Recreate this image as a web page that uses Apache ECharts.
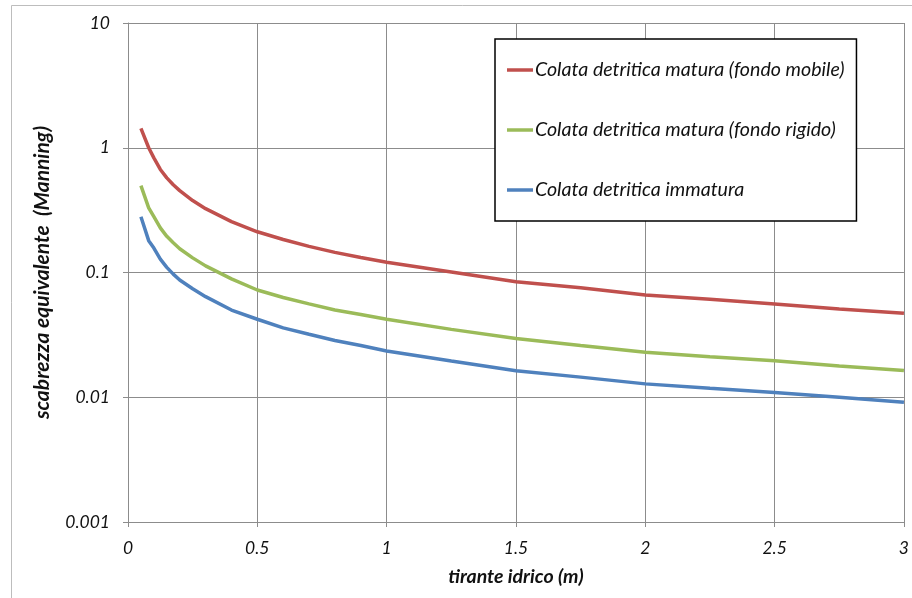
<!DOCTYPE html>
<html>
<head>
<meta charset="utf-8">
<script src="https://cdn.jsdelivr.net/npm/echarts@6/dist/echarts.min.js"></script>
<style>html,body{margin:0;padding:0;background:#fff;}#c{width:912px;height:598px;}</style>
</head>
<body>
<div id="c"></div>
<script>
var xValues = [0.05, 0.08, 0.1, 0.125, 0.15, 0.175, 0.2, 0.25, 0.3, 0.4, 0.5, 0.6, 0.7, 0.8, 0.9, 1.0, 1.25, 1.5, 1.75, 2.0, 2.25, 2.5, 2.75, 3.0];
var redValues = [1.43, 1.0, 0.83, 0.67, 0.573, 0.505, 0.453, 0.377, 0.325, 0.256, 0.212, 0.184, 0.162, 0.145, 0.132, 0.121, 0.101, 0.0843, 0.0755, 0.066, 0.061, 0.056, 0.051, 0.0471];
var greenValues = [0.497, 0.33, 0.28, 0.228, 0.195, 0.173, 0.155, 0.131, 0.113, 0.089, 0.0724, 0.063, 0.056, 0.050, 0.046, 0.0422, 0.0350, 0.0296, 0.0260, 0.0229, 0.0211, 0.0196, 0.0178, 0.0164];
var blueValues = [0.28, 0.18, 0.157, 0.128, 0.11, 0.097, 0.087, 0.074, 0.064, 0.050, 0.0422, 0.036, 0.032, 0.0285, 0.026, 0.0235, 0.0195, 0.0163, 0.0145, 0.0128, 0.0118, 0.0109, 0.0100, 0.00912];
var seriesNames = ['Colata detritica matura (fondo mobile)', 'Colata detritica matura (fondo rigido)', 'Colata detritica immatura'];
var seriesColors = ['#C0504D', '#9BBB59', '#4F81BD'];
var xTickLabels = ['0', '0.5', '1', '1.5', '2', '2.5', '3'];
var yTickLabels = ['0.001', '0.01', '0.1', '1', '10'];

function pairs(vals) { return xValues.map(function (x, i) { return [x, vals[i]]; }); }
var allVals = [redValues, greenValues, blueValues];
var FONT = 'Lato, "Open Sans", sans-serif';

var chart = echarts.init(document.getElementById('c'), null, {renderer: 'canvas'});
chart.setOption({
  animation: false,
  backgroundColor: '#fff',
  graphic: [{
    type: 'rect', silent: true, z: -10,
    shape: {x: 11.5, y: 5.5, width: 920, height: 620},
    style: {fill: 'none', stroke: '#BDBDBD', lineWidth: 1}
  }],
  grid: {left: 128, right: 7.5, top: 23, bottom: 76, containLabel: false},
  legend: {
    orient: 'vertical',
    left: 495, top: 39,
    backgroundColor: '#fff',
    borderColor: '#000', borderWidth: 1.5, borderRadius: 0,
    padding: [21, 12, 21, 12],
    itemGap: 40,
    itemWidth: 26, itemHeight: 14,
    textStyle: {fontFamily: FONT, fontStyle: 'italic', fontSize: 19.6, color: '#111', padding: [0, 0, 0, -3]},
    data: seriesNames.map(function (n) { return {name: n, icon: 'path://M0,0L26,0L26,3.5L0,3.5Z'}; })
  },
  xAxis: {
    type: 'value', min: 0, max: 3, interval: 0.5,
    name: 'tirante idrico (m)', nameLocation: 'middle', nameGap: 45,
    nameTextStyle: {fontFamily: FONT, fontStyle: 'italic', fontWeight: 'bold', fontSize: 19.5, color: '#111'},
    axisLine: {show: true, onZero: false, lineStyle: {color: '#8C8C8C', width: 1}},
    axisTick: {show: true, inside: false, length: 5, lineStyle: {color: '#8C8C8C'}},
    splitLine: {show: true, lineStyle: {color: '#8C8C8C', width: 1}},
    axisLabel: {
      margin: 17, fontFamily: FONT, fontStyle: 'italic', fontSize: 17.5, color: '#111',
      formatter: function (v) { return xTickLabels[Math.round(v / 0.5)]; }
    }
  },
  yAxis: {
    type: 'log', logBase: 10, min: 0.001, max: 10,
    name: 'scabrezza equivalente  (Manning)', nameLocation: 'middle', nameGap: 75,
    nameTextStyle: {fontFamily: FONT, fontStyle: 'italic', fontWeight: 'bold', fontSize: 21, color: '#111'},
    axisLine: {show: true, lineStyle: {color: '#8C8C8C', width: 1}},
    axisTick: {show: true, inside: false, length: 5, lineStyle: {color: '#8C8C8C'}},
    splitLine: {show: true, lineStyle: {color: '#8C8C8C', width: 1}},
    minorTick: {show: false},
    axisLabel: {
      margin: 18, fontFamily: FONT, fontStyle: 'italic', fontSize: 17.5, color: '#111',
      formatter: function (v) { var k = Math.round(Math.log10(v)) + 3; return yTickLabels[k]; }
    }
  },
  series: allVals.map(function (vals, i) {
    return {
      name: seriesNames[i], type: 'line', data: pairs(vals),
      symbol: 'none', smooth: false,
      lineStyle: {color: seriesColors[i], width: 3.5},
      itemStyle: {color: seriesColors[i]},
      z: 3 - i
    };
  })
});
</script>
</body>
</html>
